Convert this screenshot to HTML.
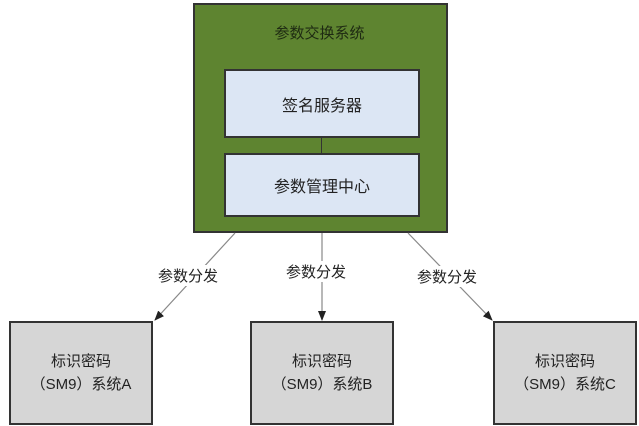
<!DOCTYPE html>
<html><head><meta charset="utf-8"><style>
body{margin:0;width:639px;height:426px;background:#fff;position:relative;overflow:hidden;font-family:"Liberation Sans","Noto Sans CJK SC",sans-serif;}
.b{position:absolute;box-sizing:border-box;display:flex;align-items:center;justify-content:center;text-align:center;color:#222;}
.g{left:193px;top:3px;width:255px;height:230px;background:#5e8430;border:2px solid #333;}
.in{left:224px;width:196px;background:#dce6f4;border:2px solid #333;font-size:16px;}
.s{top:321px;width:144px;height:104px;background:#d6d6d6;border:2px solid #333;font-size:15px;line-height:23px;}
.l{position:absolute;font-size:15px;color:#222;background:#fff;}
</style></head><body>
<div class="b g"></div>
<div class="l" style="left:0;top:22px;width:639px;text-align:center;background:none;color:#1e2a12">参数交换系统</div>
<div class="b in" style="top:69px;height:69px">签名服务器</div>
<div style="position:absolute;left:321px;top:138px;width:1px;height:15px;background:#333"></div>
<div class="b in" style="top:153px;height:64px">参数管理中心</div>
<svg width="639" height="426" style="position:absolute;left:0;top:0">
<defs><marker id="a" markerWidth="10" markerHeight="10" refX="9" refY="5" orient="auto" markerUnits="userSpaceOnUse"><path d="M0,1 L10,5 L0,9 z" fill="#222"/></marker></defs>
<line x1="235" y1="233" x2="155" y2="320" stroke="#888" stroke-width="1.2" marker-end="url(#a)"/>
<line x1="322" y1="233" x2="322" y2="320" stroke="#888" stroke-width="1.2" marker-end="url(#a)"/>
<line x1="408" y1="233" x2="492" y2="320" stroke="#888" stroke-width="1.2" marker-end="url(#a)"/>
</svg>
<div class="l" style="left:158px;top:265px">参数分发</div>
<div class="l" style="left:286px;top:261px">参数分发</div>
<div class="l" style="left:417px;top:266px">参数分发</div>
<div class="b s" style="left:9px">标识密码<br>（SM9）系统A</div>
<div class="b s" style="left:250px">标识密码<br>（SM9）系统B</div>
<div class="b s" style="left:493px">标识密码<br>（SM9）系统C</div>
</body></html>
